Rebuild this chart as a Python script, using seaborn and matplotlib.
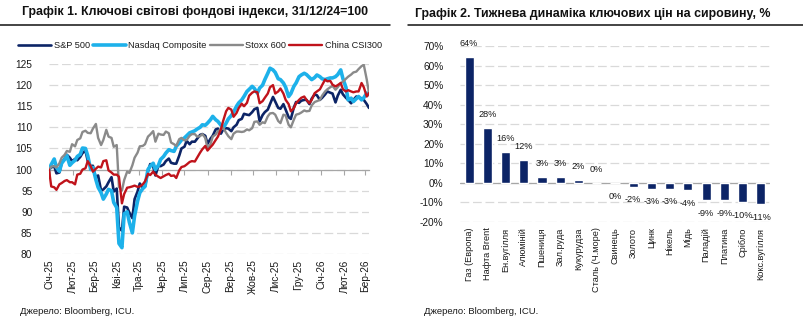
import matplotlib
matplotlib.use("Agg")
import matplotlib.pyplot as plt
from matplotlib.lines import Line2D
from matplotlib.ticker import FuncFormatter
import pandas as pd
import seaborn as sns

# ---------------- data ----------------
# Trading-day sample (Tuesdays and Fridays), 31/12/24 = 100
dates = pd.date_range("2024-12-31", "2026-03-06", freq="D")
dates = dates[dates.dayofweek.isin([1, 4])]

sp500 = [
    100.0, 100.5, 100.8, 99.1, 99.3, 101.6, 102.6, 103.5, 102.8, 102.0,
    102.5, 102.2, 103.0, 103.9, 104.5, 102.1, 100.8, 100.9, 98.0, 98.6,
    95.0, 95.3, 96.0, 97.0, 98.2, 94.8, 95.5, 86.3, 85.5, 91.2,
    91.0, 89.8, 88.5, 93.0, 94.8, 96.7, 95.6, 96.0, 99.6, 101.3,
    100.7, 98.6, 100.9, 100.8, 101.2, 102.0, 102.6, 101.6, 101.4, 101.4,
    103.3, 105.0, 105.4, 106.8, 106.0, 106.6, 106.6, 107.3, 108.2, 108.4,
    108.0, 106.1, 107.3, 108.0, 109.5, 109.7, 108.5, 109.5, 109.8, 109.7,
    109.1, 110.0, 110.6, 111.7, 112.0, 113.2, 113.0, 112.9, 113.6, 114.3,
    114.6, 111.4, 112.9, 113.6, 114.2, 115.5, 117.2, 116.1, 114.6, 114.4,
    115.5, 114.2, 112.4, 112.0, 114.7, 116.0, 115.8, 116.3, 116.5, 116.5,
    115.5, 116.8, 117.8, 117.6, 116.5, 117.0, 117.8, 118.5, 118.2, 118.0,
    115.9, 117.5, 118.9, 117.8, 117.0, 116.5, 115.7, 116.5, 117.3, 117.0,
    116.9, 116.5, 115.5, 114.6,
]
nasdaq = [
    100.0, 101.2, 102.5, 100.5, 99.6, 101.5, 102.4, 103.3, 101.0, 101.6,
    102.2, 103.1, 103.6, 105.1, 105.0, 103.3, 100.0, 100.5, 97.6, 95.8,
    94.5, 93.0, 94.2, 95.3, 95.0, 92.2, 91.0, 82.5, 81.5, 89.5,
    90.0, 87.5, 85.0, 89.0, 92.5, 94.5, 95.5, 96.0, 100.0, 100.8,
    101.5, 100.0, 101.0, 102.4, 103.1, 103.9, 104.7, 104.5, 104.3, 105.5,
    106.3, 107.0, 107.5, 108.0, 108.7, 108.9, 109.2, 109.6, 110.0, 110.6,
    110.5, 111.0, 111.8, 112.6, 111.8, 111.4, 110.5, 109.8, 111.0, 112.0,
    112.8, 113.6, 115.0, 115.8, 116.5, 117.3, 118.5, 119.0, 119.7, 119.2,
    118.1, 119.3, 120.0, 121.3, 122.8, 124.0, 123.6, 123.0, 121.5, 121.3,
    120.5, 119.5, 117.3, 118.0, 119.7, 120.5, 122.0, 122.4, 122.8, 122.5,
    121.8, 121.3, 121.8, 122.4, 122.0, 121.5, 121.3, 121.5, 121.7, 121.7,
    122.0, 122.5, 123.6, 121.5, 119.5, 116.5, 116.9, 116.1, 116.8, 117.3,
    116.5, 117.0, 118.1, 117.7,
]
stoxx600 = [
    100.0, 100.7, 100.8, 100.5, 101.5, 102.8, 103.5, 104.4, 104.2, 106.0,
    105.5, 107.0, 107.4, 108.9, 109.2, 108.7, 108.6, 109.7, 110.8, 107.5,
    105.8, 107.0, 109.4, 107.8, 107.5, 105.4, 105.8, 95.9, 95.0, 97.5,
    99.5, 99.2, 101.0, 102.8, 104.0, 105.5, 105.6, 106.0, 107.8, 108.3,
    109.1, 106.6, 108.5, 108.3, 108.2, 109.0, 108.6, 106.4, 106.0, 105.6,
    107.2, 107.5, 106.9, 107.0, 108.0, 108.4, 108.4, 107.8, 107.9, 108.4,
    107.5, 105.0, 106.0, 107.8, 108.3, 109.1, 109.5, 109.9, 108.7, 107.9,
    107.2, 108.5, 109.0, 109.0, 108.9, 109.0, 109.5, 109.3, 109.8, 111.3,
    111.4, 110.6, 111.2, 111.0, 112.6, 113.3, 113.4, 113.0, 111.5, 111.0,
    113.0, 112.8, 110.6, 110.0, 111.8, 113.0, 113.2, 113.5, 114.0, 113.8,
    113.9, 115.2, 116.0, 116.2, 116.5, 117.5, 118.5, 119.0, 119.5, 119.8,
    118.9, 119.5, 120.5, 120.8, 121.5, 122.0, 122.5, 123.0, 123.2, 123.8,
    124.5, 124.8, 121.3, 118.1,
]
csi300 = [
    100.0, 96.0, 95.8, 95.2, 96.5, 96.8, 97.3, 97.5, 97.0, 97.0,
    96.5, 98.8, 99.0, 100.0, 100.3, 102.0, 100.8, 99.5, 100.2, 100.7,
    100.5, 102.0, 102.2, 99.8, 99.3, 98.8, 98.8, 98.3, 92.0, 94.2,
    95.7, 95.8, 96.0, 96.2, 95.9, 96.0, 96.5, 97.2, 99.0, 98.7,
    99.5, 98.8, 98.3, 98.0, 98.4, 98.7, 99.0, 98.5, 98.6, 98.0,
    99.8, 100.6, 100.8, 101.2, 101.8, 102.0, 101.9, 102.8, 104.0, 104.8,
    105.6, 104.5, 105.3, 105.9, 107.0, 107.8, 109.5, 111.5, 113.8, 114.6,
    114.2, 112.5, 113.4, 114.6, 115.6, 115.0, 115.8, 117.5, 118.2, 118.5,
    118.3, 115.7, 116.2, 117.0, 118.0, 119.5, 120.0, 118.0, 118.5, 119.2,
    118.0, 116.5, 115.5, 113.8, 114.5, 115.7, 116.5, 117.0, 117.3, 116.5,
    115.7, 116.5, 118.1, 118.5, 119.0, 120.0, 121.3, 120.9, 121.0, 120.1,
    119.7, 120.0, 120.5, 119.0, 118.5, 118.8, 118.5, 118.3, 118.5, 118.5,
    120.5, 119.5, 117.3, 118.1,
]
series_names = ["S&P 500", "Nasdaq Composite", "Stoxx 600", "China CSI300"]
month_labels = ["Січ-25", "Лют-25", "Бер-25", "Кві-25", "Тра-25", "Чер-25",
                "Лип-25", "Сер-25", "Вер-25", "Жов-25", "Лис-25", "Гру-25",
                "Січ-26", "Лют-26", "Бер-26"]

commodities = ["Газ (Европа)", "Нафта Brent", "Ен.вугілля", "Алюміній",
               "Пшениця", "Зал.руда", "Кукурудза", "Сталь (Ч.море)",
               "Свинець", "Золото", "Цинк", "Нікель", "Мідь", "Паладій",
               "Платина", "Срібло", "Кокс.вугілля"]
changes = [64.3, 28.2, 15.7, 11.8, 3.1, 3.0, 1.7, 0.1, -0.3, -2.0,
           -2.9, -2.9, -3.7, -8.8, -9.0, -9.9, -10.9]

# ---------------- style ----------------
sns.set_theme(style="white")
plt.rcParams["font.family"] = ["Liberation Sans", "DejaVu Sans"]
plt.rcParams["axes.unicode_minus"] = False

NAVY = "#0c2466"
colors = {"S&P 500": NAVY, "Nasdaq Composite": "#1db1ea",
          "Stoxx 600": "#8a8a8a", "China CSI300": "#c0131b"}
widths = {"S&P 500": 1.9, "Nasdaq Composite": 2.6,
          "Stoxx 600": 1.7, "China CSI300": 1.7}
GRID = "#d9d9d9"
AXIS = "#a6a6a6"
TXT = "#1a1a1a"
FS_TICK = 7.3
FS_SMALL = 6.6
FS_TITLE = 8.9

W, H = 804, 329
fig = plt.figure(figsize=(W / 100, H / 100), dpi=100)

# ---------------- chart 1: equity indices ----------------
frame = pd.DataFrame({"date": dates, "S&P 500": sp500, "Nasdaq Composite": nasdaq,
                      "Stoxx 600": stoxx600, "China CSI300": csi300})
long = frame.melt(id_vars="date", var_name="index", value_name="value")

ax1 = fig.add_axes([49 / W, 1 - 254 / H, 320 / W, 190 / H])
sns.lineplot(data=long, x="date", y="value", hue="index", hue_order=series_names,
             palette=colors, size="index", sizes=widths, size_order=series_names,
             legend=False, ax=ax1, zorder=3)
ax1.set_xlim(pd.Timestamp("2024-12-31"), pd.Timestamp("2026-03-06"))
ax1.set_ylim(80, 125)
ax1.set_yticks(range(80, 126, 5))
ax1.grid(axis="y", color=GRID, linestyle=(0, (7, 3)), linewidth=0.9)
ax1.grid(axis="x", visible=False)
ax1.set_xlabel("")
ax1.set_ylabel("")
for s in ("top", "right", "left"):
    ax1.spines[s].set_visible(False)
# horizontal axis crosses at 100
ax1.spines["bottom"].set_position(("data", 100))
ax1.spines["bottom"].set_color(AXIS)
ax1.spines["bottom"].set_linewidth(0.9)
ax1.spines["bottom"].set_zorder(2)
month_starts = pd.date_range("2025-01-01", "2026-03-01", freq="MS")
ax1.set_xticks(month_starts)
ax1.tick_params(axis="x", bottom=True, length=3.5, width=0.8, color=AXIS,
                direction="out", labelbottom=False)
ax1.tick_params(axis="y", left=False, labelsize=FS_TICK, labelcolor=TXT, pad=6)

lab = ax1.secondary_xaxis("bottom")
lab.set_xticks(month_starts)
lab.set_xticklabels(month_labels, rotation=90, fontsize=FS_TICK, color=TXT)
lab.tick_params(length=0, pad=4)
lab.spines["bottom"].set_visible(False)

handles = [Line2D([], [], color=colors[n], lw=widths[n]) for n in series_names]
fig.legend(handles, series_names, loc="center", bbox_to_anchor=(200 / W, 1 - 46 / H),
           ncol=4, frameon=False, fontsize=FS_SMALL, handlelength=3.6, handletextpad=0.25,
           columnspacing=0.35, labelcolor=TXT)

# ---------------- chart 2: commodities ----------------
ax2 = fig.add_axes([460 / W, 1 - 222 / H, 310 / W, 176 / H])
sns.barplot(x=commodities, y=changes, color=NAVY, saturation=1, width=0.5, ax=ax2, zorder=3)
ax2.set_xlim(-0.5, len(commodities) - 0.5)
ax2.set_ylim(-20, 70)
ax2.set_yticks(range(-20, 71, 10))
ax2.yaxis.set_major_formatter(FuncFormatter(lambda v, _: f"{v:.0f}%"))
ax2.grid(axis="y", color=GRID, linestyle=(0, (7, 3)), linewidth=0.9)
ax2.grid(axis="x", visible=False)
ax2.axhline(0, color=AXIS, linewidth=0.9, zorder=2)
for s in ("top", "right", "left", "bottom"):
    ax2.spines[s].set_visible(False)
ax2.set_xticks(range(len(commodities)))
ax2.set_xticklabels(commodities, rotation=90, fontsize=FS_SMALL, color=TXT)
ax2.tick_params(axis="x", length=0, pad=4)
ax2.tick_params(axis="y", left=False, labelsize=FS_TICK, labelcolor=TXT, pad=6)
for i, v in enumerate(changes):
    ax2.annotate(f"{round(v)}%", (i, v), xytext=(0, 9.5 if v >= 0 else -9.5),
                 textcoords="offset points", ha="center", va="center",
                 fontsize=FS_SMALL, color=TXT)

# ---------------- titles, rules, sources ----------------
fig.text(22 / W, 1 - 12 / H, "Графік 1. Ключові світові фондові індекси, 31/12/24=100",
         fontsize=FS_TITLE, fontweight="bold", ha="left", va="center", color="#111111")
fig.text(415 / W, 1 - 14 / H, "Графік 2. Тижнева динаміка ключових цін на сировину, %",
         fontsize=FS_TITLE, fontweight="bold", ha="left", va="center", color="#111111")
for x0, x1 in ((0, 390), (408, 803)):
    fig.add_artist(Line2D([x0 / W, x1 / W], [1 - 24.5 / H] * 2,
                          transform=fig.transFigure, color="#111111", lw=1.1))
fig.text(20 / W, 1 - 312 / H, "Джерело: Bloomberg, ICU.", fontsize=6.8,
         ha="left", va="center", color=TXT)
fig.text(424 / W, 1 - 311 / H, "Джерело: Bloomberg, ICU.", fontsize=6.8,
         ha="left", va="center", color=TXT)

fig.savefig("out.png", dpi=100)
